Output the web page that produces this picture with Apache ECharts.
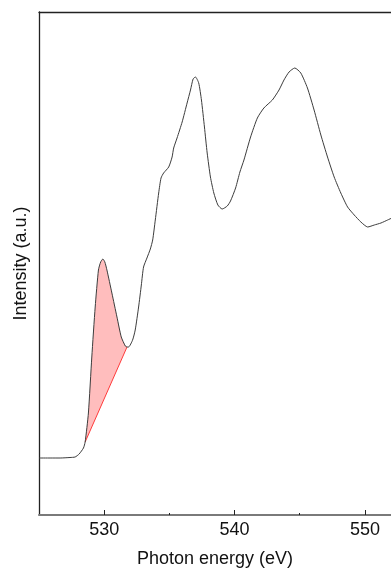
<!DOCTYPE html>
<html>
<head>
<meta charset="utf-8">
<title>O K-edge spectrum</title>
<script src="https://cdn.jsdelivr.net/npm/echarts@6/dist/echarts.min.js"></script>
<style>
  html, body { margin: 0; padding: 0; background: #fff; }
  #chart { width: 391px; height: 569px; }
</style>
</head>
<body>
<div id="chart"></div>
<script>
// Photon energy (eV) of each sample point
const energy = [
  525.00, 525.85, 526.62, 527.38, 527.77, 528.08, 528.41, 528.54, 528.79, 529.05,
  529.31, 529.56, 529.73, 529.90, 530.05, 530.21, 530.59, 530.98, 531.31, 531.62,
  531.75, 531.87, 532.18, 532.38, 532.64, 532.85, 533.02, 533.28, 533.54, 533.72,
  533.92, 534.18, 534.36, 534.56, 534.95, 535.21, 535.33, 535.59, 535.98, 536.36,
  536.62, 536.82, 537.00, 537.25, 537.46, 537.69, 537.90, 538.15, 538.41, 538.72,
  539.05, 539.44, 539.69, 540.08, 540.41, 540.72, 541.23, 541.75, 542.25, 542.90,
  543.41, 543.79, 544.18, 544.62, 545.08, 545.59, 546.10, 546.62, 547.13, 547.64,
  548.15, 548.67, 549.18, 549.69, 550.21, 550.72, 551.23, 551.74, 552.07
];
// Intensity (a.u.) at each energy
const intensity = [
  0.57, 0.57, 0.57, 0.575, 0.58, 0.61, 0.67, 0.73, 1.02, 1.58,
  2.08, 2.45, 2.53, 2.56, 2.53, 2.45, 2.22, 1.98, 1.78, 1.69,
  1.68, 1.68, 1.75, 1.85, 2.08, 2.30, 2.48, 2.57, 2.66, 2.75,
  2.95, 3.22, 3.37, 3.42, 3.48, 3.58, 3.67, 3.77, 3.93, 4.12,
  4.25, 4.36, 4.38, 4.32, 4.15, 3.88, 3.62, 3.38, 3.22, 3.10,
  3.06, 3.09, 3.14, 3.27, 3.43, 3.55, 3.78, 3.97, 4.07, 4.15,
  4.25, 4.35, 4.43, 4.47, 4.42, 4.27, 4.05, 3.80, 3.58, 3.38,
  3.22, 3.08, 3.00, 2.93, 2.88, 2.90, 2.92, 2.95, 2.97
];
// Linear background under the pre-edge peak: [energy, intensity] endpoints
const baselineEnergy = [528.54, 531.75];
const baselineIntensity = [0.73, 1.68];

// Axis tick values
const majorTicks = [530, 540, 550];
const minorTicks = [535, 545];

const spectrum = energy.map((e, i) => [e, intensity[i]]);
const baseline = baselineEnergy.map((e, i) => [e, baselineIntensity[i]]);
// Curve points that bound the shaded pre-edge area
const peakSegment = spectrum.filter(p => p[0] >= baselineEnergy[0] && p[0] <= baselineEnergy[1]);

const font = 'Liberation Sans, Arial, sans-serif';
const chart = echarts.init(document.getElementById('chart'), null, { renderer: 'canvas' });

chart.setOption({
  animation: false,
  backgroundColor: '#fff',
  grid: { left: 39, top: 12, right: 0, bottom: 54, containLabel: false, outerBoundsMode: 'none' },
  xAxis: [
    {
      type: 'value', min: 525, max: 552, position: 'bottom',
      name: 'Photon energy (eV)', nameLocation: 'middle', nameGap: 35,
      nameTextStyle: { fontSize: 18, color: '#111', fontFamily: font },
      axisLine: { show: true, lineStyle: { color: '#7a7a7a', width: 2 } },
      axisTick: { show: true, inside: true, length: 5, customValues: majorTicks,
                  lineStyle: { color: '#222', width: 1 } },
      axisLabel: { show: true, customValues: majorTicks, fontSize: 18, color: '#111',
                   fontFamily: font, margin: 6 },
      splitLine: { show: false }
    },
    {
      type: 'value', min: 525, max: 552, position: 'bottom',
      axisLine: { show: false },
      axisTick: { show: true, inside: true, length: 2, customValues: minorTicks,
                  lineStyle: { color: '#222', width: 1 } },
      axisLabel: { show: false },
      splitLine: { show: false }
    },
    {
      type: 'value', min: 525, max: 552, position: 'top',
      axisLine: { show: true, onZero: false, lineStyle: { color: '#222', width: 1.3 } },
      axisTick: { show: false },
      axisLabel: { show: false },
      splitLine: { show: false }
    }
  ],
  yAxis: {
    type: 'value', min: 0, max: 5.03,
    name: 'Intensity (a.u.)', nameLocation: 'middle', nameGap: 9,
    nameTextStyle: { fontSize: 18, color: '#111', fontFamily: font },
    axisLine: { show: true, onZero: false, lineStyle: { color: '#222', width: 1.3 } },
    axisTick: { show: false },
    axisLabel: { show: false },
    splitLine: { show: false }
  },
  series: [
    {
      // shaded area between the pre-edge peak and its linear background
      type: 'custom',
      xAxisIndex: 0,
      z: 1,
      silent: true,
      data: [baseline[0]],
      renderItem: function (params, api) {
        const pts = peakSegment.map(p => api.coord(p));
        pts.push(api.coord(baseline[1]));
        pts.push(api.coord(baseline[0]));
        return {
          type: 'polygon',
          shape: { points: pts },
          style: { fill: 'rgba(255, 0, 0, 0.26)', stroke: null }
        };
      }
    },
    {
      type: 'line',
      xAxisIndex: 0,
      z: 2,
      data: baseline,
      symbol: 'none',
      lineStyle: { color: '#ff3b3b', width: 1 }
    },
    {
      type: 'line',
      xAxisIndex: 0,
      z: 3,
      data: spectrum,
      symbol: 'none',
      smooth: 0.2,
      lineStyle: { color: '#3c3c3c', width: 1 }
    }
  ]
});
</script>
</body>
</html>
